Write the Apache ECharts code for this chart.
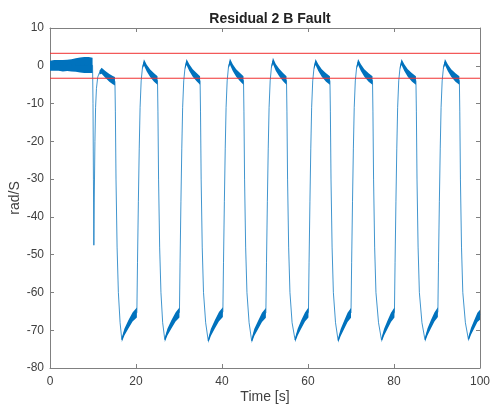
<!DOCTYPE html>
<html>
<head>
<meta charset="utf-8">
<script src="https://cdn.jsdelivr.net/npm/echarts@6/dist/echarts.min.js"></script>
<style>
  html, body { margin: 0; padding: 0; background: #fff; }
  #chart { width: 490px; height: 408px; }
</style>
</head>
<body>
<div id="chart"></div>
<script>
// time [s]
const time = [
  0, 1, 2, 3, 4, 5, 6, 7, 8, 9, 9.9,
  10.0, 10.1, 10.2, 10.3, 10.45, 10.6, 10.8, 11.1, 11.5, 12.0, 12.8, 13.8, 14.6, 15.1,
  15.2, 15.35, 15.6, 15.9, 16.3, 16.7, 17.3, 18.2, 19.2,
  20.2, 20.35, 20.55, 20.75, 20.95, 21.2, 21.5, 21.85, 22.5, 23.3, 24.2, 25.0, 25.1, 25.25, 25.5, 25.8, 26.2, 26.7, 27.3, 28.2, 29.2,
  30.1, 30.25, 30.45, 30.65, 30.85, 31.1, 31.4, 31.75, 32.4, 33.2, 34.1, 34.9, 35.0, 35.15, 35.4, 35.7, 36.2, 36.8, 37.4, 38.3, 39.3,
  40.2, 40.35, 40.55, 40.75, 40.95, 41.2, 41.5, 41.85, 42.5, 43.3, 44.2, 45.0, 45.1, 45.25, 45.5, 45.8, 46.3, 46.9, 47.5, 48.4, 49.3,
  50.2, 50.35, 50.55, 50.75, 50.95, 51.2, 51.5, 51.85, 52.5, 53.3, 54.2, 55.0, 55.1, 55.25, 55.5, 55.8, 56.3, 57.0, 57.6, 58.4, 59.3,
  60.1, 60.25, 60.45, 60.65, 60.85, 61.1, 61.4, 61.75, 62.4, 63.2, 64.2, 65.1, 65.2, 65.35, 65.6, 65.9, 66.4, 67.0, 67.6, 68.4, 69.2,
  70.0, 70.15, 70.35, 70.55, 70.75, 71.0, 71.3, 71.65, 72.3, 73.1, 74.1, 75.0, 75.1, 75.25, 75.5, 75.8, 76.4, 77.1, 77.7, 78.5, 79.3,
  80.1, 80.25, 80.45, 80.65, 80.85, 81.1, 81.4, 81.75, 82.4, 83.2, 84.2, 85.1, 85.2, 85.35, 85.6, 85.9, 86.5, 87.2, 87.8, 88.6, 89.4,
  90.2, 90.35, 90.55, 90.75, 90.95, 91.2, 91.5, 91.85, 92.5, 93.3, 94.3, 95.2, 95.3, 95.45, 95.7, 96.0, 96.6, 97.3, 97.9, 98.7, 99.4, 100
]

// residual [rad/S]
const residual = [
  0.0, 0.1, 0.1, 0.0, 0.1, 0.1, 0.2, 0.2, 0.2, 0.2, 0.1,
  -10, -30, -47.5, -35, -20, -11, -6, -3, -1.8, -1.3, -2.2, -3.2, -3.8, -4.1,
  -12, -30, -48, -60, -68, -72.5, -70.5, -68.5, -66.5,
  -65.3, -52, -36, -22, -11, -4, -0.5, 0.9, -0.6, -2.0, -3.1, -3.9, -12, -30, -48, -60, -68, -72.5, -70.5, -68.5, -66.5,
  -65.3, -52, -36, -22, -11, -4, -0.5, 1.0, -0.5, -1.9, -3.0, -3.9, -12, -30, -48, -60, -68, -72.8, -70.6, -68.5, -66.4,
  -65.2, -52, -36, -22, -11, -4, -0.4, 1.1, -0.5, -1.9, -3.0, -3.9, -12, -30, -48, -60, -68, -72.8, -70.6, -68.6, -66.6,
  -65.4, -52, -36, -22, -11, -4, -0.3, 1.3, -0.4, -1.8, -3.0, -3.9, -12, -30, -48, -60, -68, -72.6, -70.5, -68.5, -66.5,
  -65.3, -52, -36, -22, -11, -4, -0.5, 1.0, -0.5, -1.9, -3.1, -3.9, -12, -30, -48, -60, -68, -72.7, -70.6, -68.6, -66.6,
  -65.4, -52, -36, -22, -11, -4, -0.5, 1.0, -0.5, -1.9, -3.1, -3.9, -12, -30, -48, -60, -68, -72.6, -70.5, -68.5, -66.6,
  -65.3, -52, -36, -22, -11, -4, -0.5, 1.0, -0.5, -1.9, -3.1, -3.9, -12, -30, -48, -60, -68, -72.5, -70.4, -68.4, -66.5,
  -65.2, -52, -36, -22, -11, -4, -0.5, 1.0, -0.5, -1.9, -3.1, -3.9, -12, -30, -48, -60, -68, -72.4, -70.3, -68.3, -66.6, -65.9
]

// half height of the noise band round the residual
const spread = [
  1.3, 1.4, 1.4, 1.5, 1.5, 1.6, 1.8, 2.0, 2.1, 2.1, 2.0,
  0, 0, 0, 0, 0, 0, 0, 0, 0.5, 0.8, 0.9, 1.0, 1.1, 1.1,
  0, 0, 0, 0, 0, 0.6, 0.9, 1.1, 1.2,
  1.3, 0, 0, 0, 0, 0, 0.4, 0.8, 0.9, 1.0, 1.1, 1.1, 0, 0, 0, 0, 0, 0.6, 0.9, 1.1, 1.2,
  1.3, 0, 0, 0, 0, 0, 0.4, 0.8, 0.9, 1.0, 1.1, 1.1, 0, 0, 0, 0, 0, 0.6, 0.9, 1.1, 1.2,
  1.3, 0, 0, 0, 0, 0, 0.4, 0.8, 0.9, 1.0, 1.1, 1.1, 0, 0, 0, 0, 0, 0.6, 0.9, 1.1, 1.2,
  1.3, 0, 0, 0, 0, 0, 0.4, 0.8, 0.9, 1.0, 1.1, 1.1, 0, 0, 0, 0, 0, 0.6, 0.9, 1.1, 1.2,
  1.3, 0, 0, 0, 0, 0, 0.4, 0.8, 0.9, 1.0, 1.1, 1.1, 0, 0, 0, 0, 0, 0.6, 0.9, 1.1, 1.2,
  1.3, 0, 0, 0, 0, 0, 0.4, 0.8, 0.9, 1.0, 1.1, 1.1, 0, 0, 0, 0, 0, 0.6, 0.9, 1.1, 1.2,
  1.3, 0, 0, 0, 0, 0, 0.4, 0.8, 0.9, 1.0, 1.1, 1.1, 0, 0, 0, 0, 0, 0.6, 0.9, 1.1, 1.2,
  1.3, 0, 0, 0, 0, 0, 0.4, 0.8, 0.9, 1.0, 1.1, 1.1, 0, 0, 0, 0, 0, 0.6, 0.9, 1.1, 1.2, 1.3
]

// thresholds [rad/S]
const thresholds = [3.3, -3.3]
const timeRange = [0, 100]

const font = 'Liberation Sans, Arial, Helvetica, sans-serif'
const axisGray = '#808080'
const textGray = '#404040'
const blue = '#0072BD'

// runs of consecutive noisy points -> band polygons
let runs = []
let cur = []
spread.forEach((s, i) => {
  if (s > 0) {
    cur.push(i)
  } else {
    if (cur.length > 1) runs.push(cur)
    cur = []
  }
})
if (cur.length > 1) runs.push(cur)

const chart = echarts.init(document.getElementById('chart'))

function xAx(pos, show) {
  return {
    type: 'value', position: pos, min: 0, max: 100, interval: 20,
    axisLine: { show: true, onZero: false, lineStyle: { color: axisGray, width: 1 } },
    axisTick: { show: true, inside: true, length: 4, lineStyle: { color: axisGray } },
    axisLabel: { show: show, color: textGray, fontSize: 12, fontFamily: font, margin: 8 },
    splitLine: { show: false }
  }
}
function yAx(pos, show) {
  return {
    type: 'value', position: pos, min: -80, max: 10, interval: 10,
    axisLine: { show: true, onZero: false, lineStyle: { color: axisGray, width: 1 } },
    axisTick: { show: true, inside: true, length: 4, lineStyle: { color: axisGray } },
    axisLabel: { show: show, color: textGray, fontSize: 12, fontFamily: font, margin: 6 },
    splitLine: { show: false }
  }
}

let xTop = xAx('top', false)
let yRight = yAx('right', false)
let xBottom = xAx('bottom', true)
xBottom.name = 'Time [s]'
xBottom.nameLocation = 'middle'
xBottom.nameGap = 22
xBottom.nameMoveOverlap = false
xBottom.nameTextStyle = { color: textGray, fontSize: 14, fontFamily: font }
let yLeft = yAx('left', true)
yLeft.name = 'rad/S'
yLeft.nameLocation = 'middle'
yLeft.nameGap = 28
yLeft.nameMoveOverlap = false
yLeft.nameTextStyle = { color: textGray, fontSize: 14, fontFamily: font }

let series = [{
  type: 'custom',
  xAxisIndex: 0, yAxisIndex: 0,
  data: runs.map(r => [time[r[0]], residual[r[0]]]),
  renderItem: (params, api) => {
    const r = runs[params.dataIndex]
    const upper = r.map(i => api.coord([time[i], residual[i] + spread[i]]))
    const lower = r.map(i => api.coord([time[i], residual[i] - spread[i]])).reverse()
    return {
      type: 'polygon',
      shape: { points: upper.concat(lower) },
      style: { fill: blue }
    }
  },
  silent: true,
  z: 2
}, {
  type: 'line',
  xAxisIndex: 0, yAxisIndex: 0,
  data: time.map((t, i) => [t, residual[i]]),
  showSymbol: false,
  lineStyle: { color: blue, width: 1, opacity: 0.75 },
  z: 3
}]
thresholds.forEach(th => {
  series.push({
    type: 'line',
    xAxisIndex: 0, yAxisIndex: 0,
    data: timeRange.map(t => [t, th]),
    showSymbol: false,
    lineStyle: { color: '#f03030', width: 1 },
    z: 4
  })
})

chart.setOption({
  animation: false,
  title: {
    text: 'Residual 2 B Fault',
    left: 265,
    top: 7,
    textAlign: 'center',
    textStyle: { color: '#222', fontSize: 14, fontWeight: 'bold', fontFamily: font }
  },
  grid: { left: 50, right: 10, top: 28, bottom: 40, containLabel: false, outerBoundsMode: 'none' },
  xAxis: [xBottom, xTop],
  yAxis: [yLeft, yRight],
  series
})
</script>
</body>
</html>
